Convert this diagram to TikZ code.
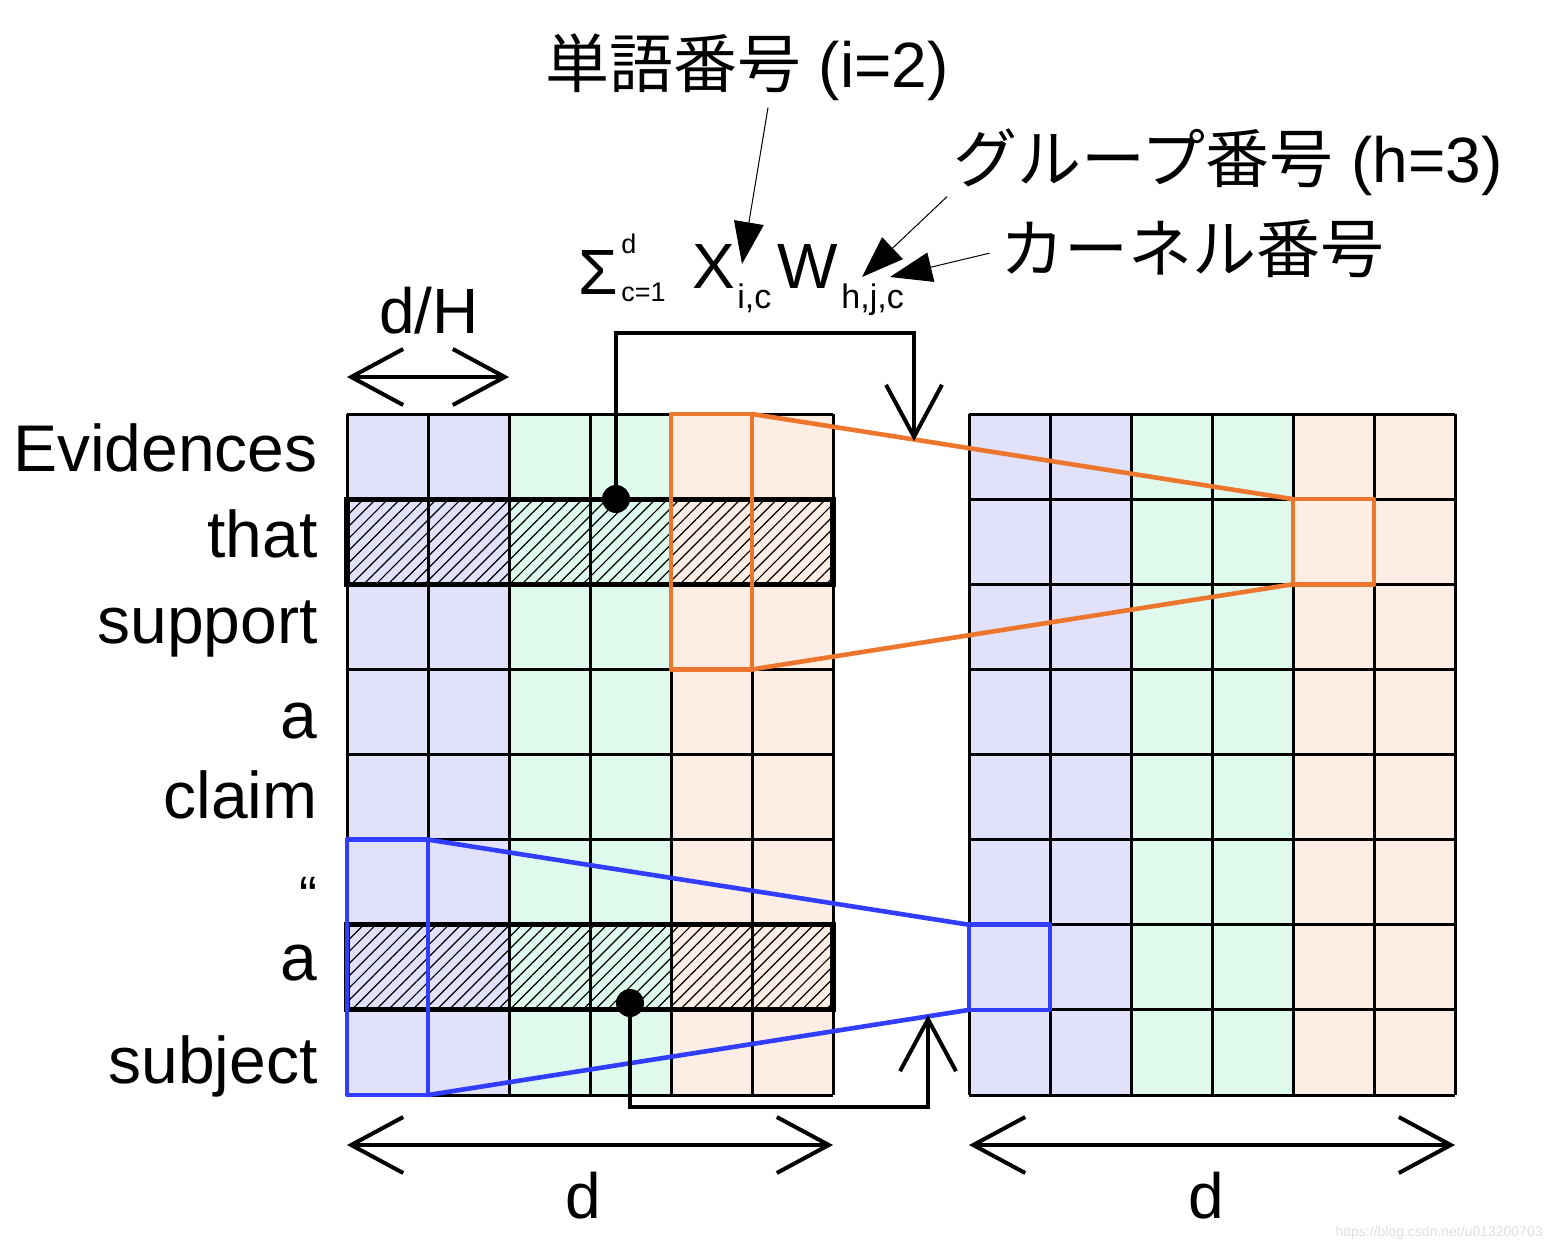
\documentclass[tikz,border=0pt]{standalone}
\usepackage{fontspec}
\setmainfont{Liberation Sans}
\newfontfamily\jpfont{Noto Sans CJK JP}
\usetikzlibrary{arrows.meta,patterns.meta,positioning}

\definecolor{cellpurple}{RGB}{225,225,250}
\definecolor{cellgreen}{RGB}{223,250,236}
\definecolor{cellorange}{RGB}{252,238,228}
\definecolor{hlorange}{RGB}{237,118,46}
\definecolor{hlblue}{RGB}{50,62,255}

\begin{document}
\begin{tikzpicture}[x=0.5pt,y=-0.5pt,
		gridline/.style={line width=1.5pt},
		hatchrow/.style={pattern={Lines[angle=45,distance=4.3pt,line width=0.6pt]}},
		rowbox/.style={line width=2.6pt},
		hlbox/.style={line width=2.3pt,line join=round},
		dot/.style={circle,fill=black,minimum size=14pt,inner sep=0pt},
		dimarrow/.style={line width=2pt,{Straight Barb[length=26pt,width=28pt]}-{Straight Barb[length=26pt,width=28pt]}},
		flowarrow/.style={line width=2pt,-{Straight Barb[length=26pt,width=28pt]}},
		pointer/.style={line width=0.5pt,-{Triangle[length=21pt,width=15pt]}},
		word/.style={font=\fontsize{33}{33}\selectfont,anchor=base east,inner sep=0pt},
		dimlabel/.style={font=\fontsize{32}{32}\selectfont,anchor=base,inner sep=0pt},
		jlabel/.style={font=\fontsize{32}{32}\selectfont,anchor=base,inner sep=0pt},
		formbig/.style={font=\fontsize{32}{32}\selectfont,anchor=base west,inner sep=0pt},
		formsub/.style={font=\fontsize{17}{17}\selectfont,anchor=base west,inner sep=0pt},
		formtiny/.style={font=\fontsize{13.5}{13.5}\selectfont,anchor=base west,inner sep=0pt},
		watermark/.style={font=\fontsize{7}{7}\selectfont,text=black!12,anchor=east,inner sep=0pt}]
	\fill[white] (0,0) rectangle (1552,1252);
	\useasboundingbox (0,0) rectangle (1552,1252);
	% grid points, L = input matrix, R = output matrix
	\foreach \i in {0,...,6}
		\foreach \j in {0,...,8} {
			\coordinate (L\i\j) at ({347+81*\i},{414+85.125*\j});
			\coordinate (R\i\j) at ({969+81*\i},{414+85.125*\j});
		}
	% head groups
	\foreach \g in {L,R} {
		\fill[cellpurple] (\g00) rectangle (\g28);
		\fill[cellgreen] (\g20) rectangle (\g48);
		\fill[cellorange] (\g40) rectangle (\g68);
	}
	\fill[hatchrow] (L01) rectangle (L62);
	\fill[hatchrow] (L06) rectangle (L67);
	\foreach \g in {L,R} {
		\foreach \i in {0,...,6} \draw[gridline] (\g\i0) -- (\g\i8);
		\foreach \j in {0,...,8} \draw[gridline] (\g0\j) -- (\g6\j);
	}
	\draw[rowbox] (L01) rectangle (L62);
	\draw[rowbox] (L06) rectangle (L67);
	% kernels
	\draw[hlbox,hlorange] (L40) rectangle (L53);
	\draw[hlbox,hlorange] (L50) -- (R41);
	\draw[hlbox,hlorange] (L53) -- (R42);
	\draw[hlbox,hlorange] (R41) rectangle (R52);
	\draw[hlbox,hlblue] (L05) rectangle (L18);
	\draw[hlbox,hlblue] (L15) -- (R06);
	\draw[hlbox,hlblue] (L18) -- (R07);
	\draw[hlbox,hlblue] (R06) rectangle (R17);
	% words
	\foreach \w/\y [count=\n] in {Evidences/471,that/557,support/643,a/738,claim/818}
		\node[word] (word\n) at (318,\y) {\w};
	\node[word,font=\fontsize{27}{27}\selectfont] (word6) at (318,914) {“};
	\node[word] (word7) at (318,980) {a};
	\node[word] (word8) at (318,1083) {subject};
	% word vectors to output
	\node[dot] (dotA) at (616,499) {};
	\node[dot] (dotB) at (630,1003) {};
	\coordinate (bendA) at (616,333);
	\coordinate (tipA) at (914,441);
	\coordinate (bendB) at (630,1107);
	\coordinate (tipB) at (928,1015);
	\draw[flowarrow] (dotA.center) -- (bendA) -| (tipA);
	\draw[flowarrow] (dotB.center) -- (bendB) -| (tipB);
	% dimensions
	\coordinate (dhL) at (347,377);
	\coordinate (dhR) at (509,377);
	\draw[dimarrow] (dhL) -- (dhR);
	\node[dimlabel] (dhlbl) at (429,333) {d/H};
	\coordinate (dlL) at (347,1145);
	\coordinate (dlR) at (833,1145);
	\draw[dimarrow] (dlL) -- (dlR);
	\node[dimlabel] (dllbl) at (583,1218) {d};
	\coordinate (drL) at (969,1145);
	\coordinate (drR) at (1455,1145);
	\draw[dimarrow] (drL) -- (drR);
	\node[dimlabel] (drlbl) at (1206,1218) {d};
	% formula
	\node[formbig] (sumsym) at (578,294) {Σ};
	\node[formtiny] (sumtop) at (621,253) {d};
	\node[formtiny] (sumbot) at (621,301) {c=1};
	\node[formbig] (xsym) at (692,288) {X};
	\node[formsub] (xsub) at (737,308) {i,c};
	\node[formbig] (wsym) at (777,288) {W};
	\node[formsub] (wsub) at (841,308) {h,j,c};
	% index labels
	\node[jlabel] (wordlbl) at (747,88) {{\jpfont 単語番号} (i=2)};
	\node[jlabel] (grouplbl) at (1228,183) {{\jpfont グループ番号} (h=3)};
	\node[jlabel] (kernellbl) at (1192,272) {\jpfont カーネル番号};
	\coordinate (tipI) at (742,264);
	\coordinate (tipH) at (862,277);
	\coordinate (tipK) at (890,277);
	\draw[pointer] ([xshift=10.5pt,yshift=-3pt]wordlbl.south) -- (tipI);
	\draw[pointer] ([xshift=-3pt]grouplbl.south west) -- (tipH);
	\draw[pointer] ([xshift=-5pt,yshift=-2.5pt]kernellbl.west) -- (tipK);
	\node[watermark] (wmark) at (1543,1233) {https://blog.csdn.net/u013200703};
\end{tikzpicture}
\end{document}
